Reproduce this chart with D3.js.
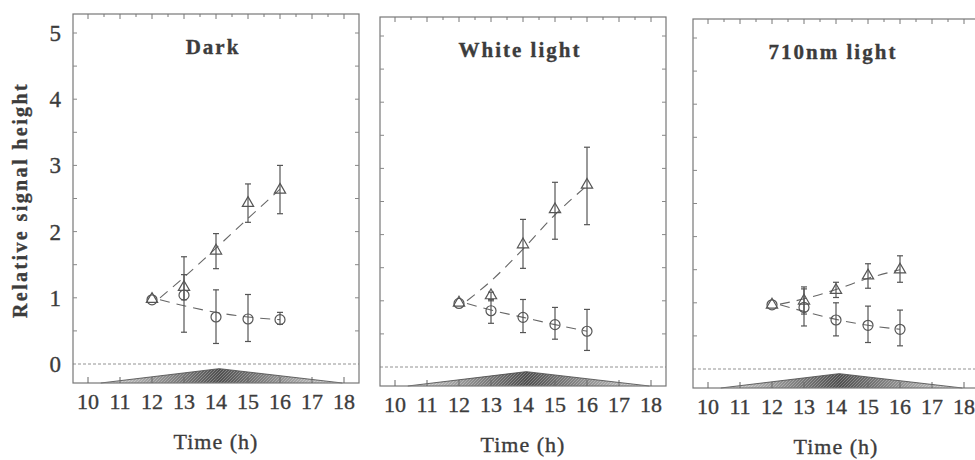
<!DOCTYPE html>
<html>
<head>
<meta charset="utf-8">
<script src="https://cdn.jsdelivr.net/npm/d3@7"></script>
<style>
	body { margin: 0; background: #fff; }
	text { font-family: "Liberation Serif", "DejaVu Serif", serif; fill: #3c3c3c; stroke: #3c3c3c; stroke-width: 0.35; }
</style>
</head>
<body>
<svg id="chart" width="975" height="460"></svg>
<script>
// values
var hours = [12, 13, 14, 15, 16];
var panel_titles = ['Dark', 'White light', '710nm light'];

var triangle_values = [[0.98, 1.16, 1.71, 2.43, 2.63], [0.97, 1.08, 1.85, 2.38, 2.75], [0.97, 1.03, 1.19, 1.41, 1.50]];
var triangle_low    = [[0.98, 0.97, 1.44, 2.14, 2.27], [0.97, 1.00, 1.49, 1.93, 2.15], [0.97, 0.83, 1.08, 1.22, 1.31]];
var triangle_high   = [[0.98, 1.35, 1.97, 2.72, 3.00], [0.97, 1.13, 2.23, 2.79, 3.32], [0.97, 1.24, 1.31, 1.59, 1.71]];

var circle_values = [[0.97, 1.04, 0.71, 0.68, 0.67], [0.96, 0.85, 0.75, 0.64, 0.54], [0.97, 0.93, 0.74, 0.66, 0.60]];
var circle_low    = [[0.97, 0.48, 0.31, 0.34, 0.60], [0.96, 0.66, 0.52, 0.42, 0.25], [0.97, 0.65, 0.50, 0.40, 0.35]];
var circle_high   = [[0.97, 1.62, 1.12, 1.05, 0.78], [0.96, 1.02, 1.02, 0.90, 0.87], [0.97, 1.21, 1.00, 0.95, 0.89]];

// dashed trend lines
var trend_hours = [12.25, 13, 14, 15, 16];
var triangle_trend = [[1.00, 1.31, 1.75, 2.20, 2.64], [1.00, 1.30, 1.78, 2.30, 2.74], [0.98, 1.06, 1.20, 1.37, 1.50]];
var circle_trend   = [[0.97, 0.88, 0.78, 0.71, 0.67], [0.96, 0.86, 0.75, 0.64, 0.54], [0.97, 0.87, 0.75, 0.66, 0.60]];

// light profile under the axis
var light_hours = [10.4, 14.1, 17.95];
var light_values = [-0.29, -0.07, -0.29];

var x_ticks = [10, 11, 12, 13, 14, 15, 16, 17, 18];
var y_ticks = [0, 1, 2, 3, 4, 5];

var panel_origins = [[73, 14], [380, 17], [693, 19]];
var panel_w = 286, panel_h = 369;
var ink = '#555';

var svg = d3.select('#chart');

var x = d3.scaleLinear().domain([10, 18]).range([15, 271]);
var y = d3.scaleLinear().domain([0, 5]).range([350, 19]);

var defs = svg.append('defs');
var grad = defs.append('linearGradient').attr('id', 'lightgrad');
grad.append('stop').attr('offset', '0%').attr('stop-color', '#d4d4d4');
grad.append('stop').attr('offset', '49%').attr('stop-color', '#505050');
grad.append('stop').attr('offset', '100%').attr('stop-color', '#d4d4d4');

var pat = defs.append('pattern').attr('id', 'stipple')
	.attr('width', 3).attr('height', 3).attr('patternUnits', 'userSpaceOnUse');
pat.append('path').attr('d', 'M0,3 L3,0').attr('stroke', '#fff').attr('stroke-opacity', 0.35).attr('stroke-width', 0.8);

function draw_panel(i)
{
	var g = svg.append('g')
		.attr('transform', 'translate(' + panel_origins[i][0] + ',' + panel_origins[i][1] + ')');

	// light triangle
	var light = d3.line()
		.x(function(d, k) { return x(light_hours[k]); })
		.y(function(d) { return Math.min(y(d), panel_h); });

	var area = d3.area()
		.x(function(d, k) { return x(light_hours[k]); })
		.y0(panel_h)
		.y1(function(d) { return Math.min(y(d), panel_h); });

	g.append('path').datum(light_values)
		.attr('d', area)
		.attr('fill', 'url(#lightgrad)');
	g.append('path').datum(light_values)
		.attr('d', area)
		.attr('fill', 'url(#stipple)');
	g.append('path').datum(light_values)
		.attr('d', light)
		.attr('fill', 'none')
		.attr('stroke', '#444')
		.attr('stroke-width', 0.8);

	// zero line
	g.append('line')
		.attr('x1', 0).attr('x2', panel_w)
		.attr('y1', y(0)).attr('y2', y(0))
		.attr('stroke', '#777').attr('stroke-width', 0.8)
		.attr('stroke-dasharray', '3,2');

	// frame
	g.append('rect')
		.attr('width', panel_w).attr('height', panel_h)
		.attr('fill', 'none').attr('stroke', '#777').attr('stroke-width', 1.2);

	// inner ticks
	var half_hours = d3.range(10, 18.01, 0.5);
	g.selectAll('.top-tick').data(half_hours).enter().append('line')
		.attr('x1', function(d) { return x(d); }).attr('x2', function(d) { return x(d); })
		.attr('y1', 0).attr('y2', function(d) { return d % 1 == 0 ? 5 : 3; })
		.attr('stroke', '#777').attr('stroke-width', 1);
	g.selectAll('.bottom-tick').data(x_ticks).enter().append('line')
		.attr('x1', function(d) { return x(d); }).attr('x2', function(d) { return x(d); })
		.attr('y1', panel_h).attr('y2', panel_h - 6)
		.attr('stroke', '#666').attr('stroke-width', 1);

	var half_units = d3.range(0.5, 5.01, 0.5);
	g.selectAll('.left-tick').data(half_units).enter().append('line')
		.attr('x1', 0).attr('x2', 4)
		.attr('y1', function(d) { return y(d); }).attr('y2', function(d) { return y(d); })
		.attr('stroke', '#888').attr('stroke-width', 1);
	g.selectAll('.right-tick').data(half_units).enter().append('line')
		.attr('x1', panel_w).attr('x2', panel_w - 4)
		.attr('y1', function(d) { return y(d); }).attr('y2', function(d) { return y(d); })
		.attr('stroke', '#888').attr('stroke-width', 1);

	// x tick labels
	g.selectAll('.xlab').data(x_ticks).enter().append('text')
		.attr('x', function(d) { return x(d); })
		.attr('y', panel_h + 26)
		.attr('text-anchor', 'middle')
		.attr('font-size', 22)
		.text(function(d) { return d; });

	g.append('text')
		.attr('x', panel_w / 2)
		.attr('y', panel_h + 66)
		.attr('text-anchor', 'middle')
		.attr('font-size', 22)
		.attr('letter-spacing', 1)
		.text('Time (h)');

	g.append('text')
		.attr('x', panel_w / 2 - 3)
		.attr('y', 40)
		.attr('text-anchor', 'middle')
		.attr('font-size', 21)
		.attr('font-weight', 'bold')
		.attr('letter-spacing', 2)
		.text(panel_titles[i]);

	// trend lines
	var trend = d3.line()
		.x(function(d, k) { return x(trend_hours[k]); })
		.y(function(d) { return y(d); })
		.curve(d3.curveMonotoneX);

	[triangle_trend[i], circle_trend[i]].forEach(function(t) {
		g.append('path').datum(t)
			.attr('d', trend)
			.attr('fill', 'none')
			.attr('stroke', '#666')
			.attr('stroke-width', 1.1)
			.attr('stroke-dasharray', '10,7');
	});

	// error bars
	function error_bars(values, low, high)
	{
		var data = hours.map(function(h, k) { return { h: h, v: values[k], lo: low[k], hi: high[k] }; })
			.filter(function(d) { return d.hi - d.lo > 0.02; });
		var bars = g.append('g');
		bars.selectAll('.bar').data(data).enter().append('line')
			.attr('x1', function(d) { return x(d.h); }).attr('x2', function(d) { return x(d.h); })
			.attr('y1', function(d) { return y(d.lo); }).attr('y2', function(d) { return y(d.hi); })
			.attr('stroke', ink).attr('stroke-width', 1.2);
		['lo', 'hi'].forEach(function(end) {
			bars.selectAll('.cap-' + end).data(data).enter().append('line')
				.attr('x1', function(d) { return x(d.h) - 3; }).attr('x2', function(d) { return x(d.h) + 3; })
				.attr('y1', function(d) { return y(d[end]); }).attr('y2', function(d) { return y(d[end]); })
				.attr('stroke', ink).attr('stroke-width', 1.2);
		});
	}
	error_bars(circle_values[i], circle_low[i], circle_high[i]);
	error_bars(triangle_values[i], triangle_low[i], triangle_high[i]);

	// markers
	g.selectAll('.circle').data(circle_values[i]).enter().append('circle')
		.attr('cx', function(d, k) { return x(hours[k]); })
		.attr('cy', function(d) { return y(d); })
		.attr('r', 5)
		.attr('fill', 'none').attr('stroke', ink).attr('stroke-width', 1.2);

	var tri = d3.symbol().type(d3.symbolTriangle).size(55);
	g.selectAll('.triangle').data(triangle_values[i]).enter().append('path')
		.attr('d', tri)
		.attr('transform', function(d, k) { return 'translate(' + x(hours[k]) + ',' + y(d) + ')'; })
		.attr('fill', 'none').attr('stroke', ink).attr('stroke-width', 1.2);
}

for(var i = 0; i < panel_titles.length; i++)
{
	draw_panel(i);
}

// y axis labels, first panel only
var y_labels = svg.append('g')
	.attr('transform', 'translate(' + panel_origins[0][0] + ',' + panel_origins[0][1] + ')');

y_labels.selectAll('text').data(y_ticks).enter().append('text')
	.attr('x', -12)
	.attr('y', function(d) { return y(d) + 8; })
	.attr('text-anchor', 'end')
	.attr('font-size', 23)
	.text(function(d) { return d; });

svg.append('text')
	.attr('transform', 'translate(27,200) rotate(-90)')
	.attr('text-anchor', 'middle')
	.attr('font-size', 20)
	.attr('font-weight', 'bold')
	.attr('letter-spacing', 2.4)
	.text('Relative signal height');
</script>
</body>
</html>
